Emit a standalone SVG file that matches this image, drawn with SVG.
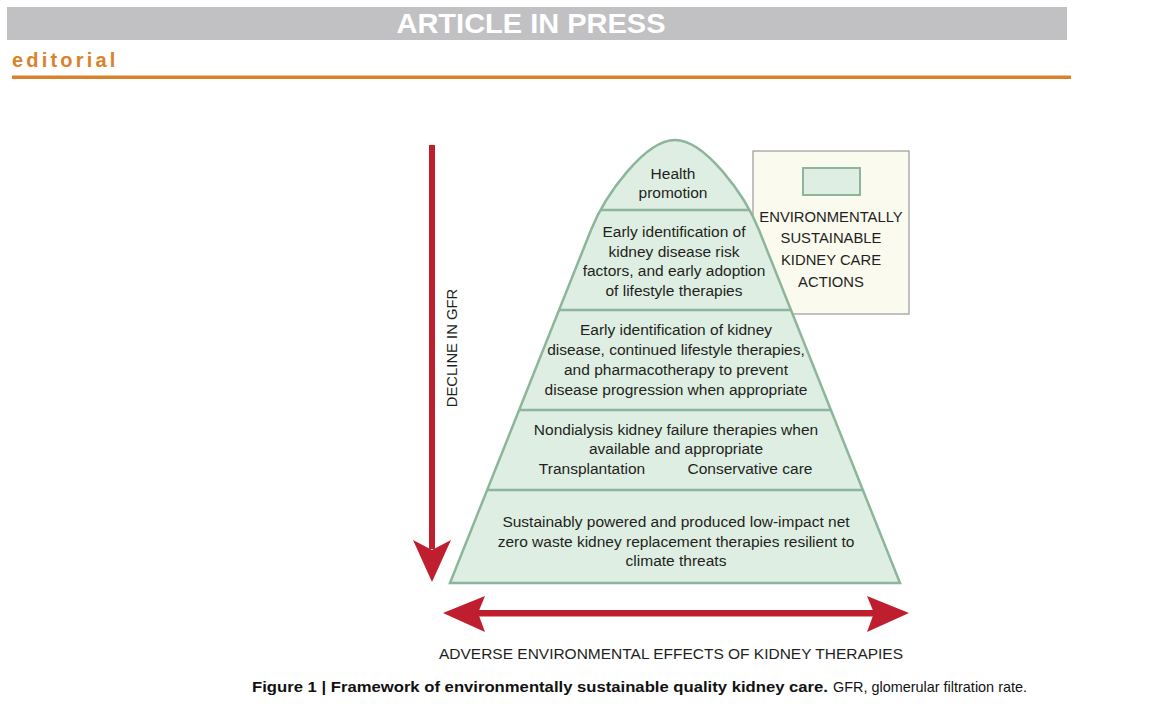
<svg xmlns="http://www.w3.org/2000/svg" width="1151" height="728" viewBox="0 0 1151 728">
<style>
.t{font-family:"Liberation Sans",Arial,sans-serif;font-size:15.5px;fill:#231f20;text-anchor:middle}
.lg{font-family:"Liberation Sans",Arial,sans-serif;font-size:14.8px;fill:#231f20;text-anchor:middle}
.div{stroke:#8db59c;stroke-width:2.5;fill:none}
.red{fill:#be1e2d}
</style>
<rect width="1151" height="728" fill="#ffffff"/>
<g id="header">
<rect x="7" y="7" width="1060" height="33" fill="#c1c1c3"/>
<text x="531" y="33" font-family="'Liberation Sans',Arial,sans-serif" font-weight="bold" font-size="28" fill="#ffffff" text-anchor="middle" textLength="269" lengthAdjust="spacingAndGlyphs">ARTICLE IN PRESS</text>
<text x="12" y="67" font-family="'Liberation Sans',Arial,sans-serif" font-weight="bold" font-size="20" fill="#d9822b" letter-spacing="3.2">editorial</text>
<rect x="12" y="75.5" width="1059" height="3.5" fill="#d9822b"/>
</g>
<g id="legend">
<rect x="753" y="151" width="156" height="163" fill="#fbfaef" stroke="#9a9a9a" stroke-width="1.2"/>
<rect x="803" y="168" width="57" height="27" fill="#dfeee2" stroke="#8db59c" stroke-width="2"/>
<text class="lg" x="831" y="222">ENVIRONMENTALLY</text>
<text class="lg" x="831" y="243">SUSTAINABLE</text>
<text class="lg" x="831" y="265">KIDNEY CARE</text>
<text class="lg" x="831" y="287">ACTIONS</text>
</g>
<g id="pyramid">
<path d="M450,583 L591,230 C605,195 645,140 675,140 C705,140 745,195 759,230 L900,583 Z" fill="#dfeee2" stroke="#8db59c" stroke-width="2.5"/>
<line class="div" x1="600" y1="210" x2="750" y2="210"/>
<line class="div" x1="559" y1="310" x2="791" y2="310"/>
<line class="div" x1="519" y1="410" x2="831" y2="410"/>
<line class="div" x1="487" y1="490" x2="863" y2="490"/>
</g>
<g id="level1">
<text class="t" x="673" y="179">Health</text>
<text class="t" x="673" y="198">promotion</text>
</g>
<g id="level2">
<text class="t" x="674" y="237">Early identification of</text>
<text class="t" x="674" y="257">kidney disease risk</text>
<text class="t" x="674" y="276">factors, and early adoption</text>
<text class="t" x="674" y="296">of lifestyle therapies</text>
</g>
<g id="level3">
<text class="t" x="676" y="335">Early identification of kidney</text>
<text class="t" x="676" y="355">disease, continued lifestyle therapies,</text>
<text class="t" x="676" y="375">and pharmacotherapy to prevent</text>
<text class="t" x="676" y="395">disease progression when appropriate</text>
</g>
<g id="level4">
<text class="t" x="676" y="435">Nondialysis kidney failure therapies when</text>
<text class="t" x="676" y="454">available and appropriate</text>
<text class="t" x="592" y="474">Transplantation</text>
<text class="t" x="750" y="474">Conservative care</text>
</g>
<g id="level5">
<text class="t" x="676" y="527">Sustainably powered and produced low-impact net</text>
<text class="t" x="676" y="547">zero waste kidney replacement therapies resilient to</text>
<text class="t" x="676" y="566">climate threats</text>
</g>
<g id="connectors">
<rect class="red" x="429" y="145" width="6" height="404"/>
<polygon class="red" points="413,540 432,550 451,540 432,582"/>
<rect class="red" x="476" y="610" width="400" height="6.5"/>
<polygon class="red" points="443,613 485,596 478,613 485,632"/>
<polygon class="red" points="909,613 867,596 874,613 867,632"/>
</g>
<g id="axis-labels">
<text class="lg" transform="translate(457,348) rotate(-90)" x="0" y="0">DECLINE IN GFR</text>
<text class="t" x="671" y="659" textLength="464" lengthAdjust="spacingAndGlyphs">ADVERSE ENVIRONMENTAL EFFECTS OF KIDNEY THERAPIES</text>
</g>
<g id="caption">
<text x="252" y="692" font-family="'Liberation Sans',Arial,sans-serif" font-weight="bold" font-size="15" fill="#111" textLength="576" lengthAdjust="spacingAndGlyphs">Figure 1 | Framework of environmentally sustainable quality kidney care.</text>
<text x="833" y="692" font-family="'Liberation Sans',Arial,sans-serif" font-size="15" fill="#111" textLength="194" lengthAdjust="spacingAndGlyphs">GFR, glomerular filtration rate.</text>
</g>
</svg>
